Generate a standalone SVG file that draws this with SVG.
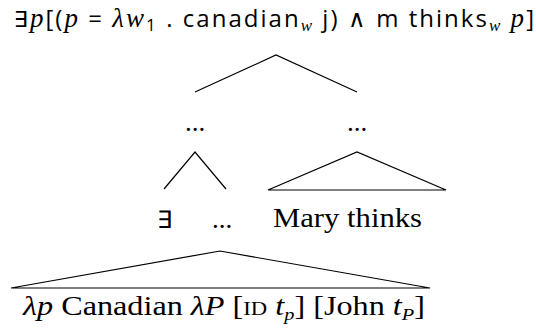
<svg xmlns="http://www.w3.org/2000/svg" width="536" height="336" viewBox="0 0 536 336">
<style>
.sans{font-family:"Open Sans","Noto Sans",sans-serif;font-size:24px;fill:#000}
.serif{font-family:"Liberation Serif","DejaVu Serif",serif;font-size:27px;fill:#000}
.mi{font-family:"Liberation Serif",serif;font-style:italic}
.sub{font-size:17px}
.sc{font-variant:small-caps}
.edge{stroke:#000;stroke-width:1.2;fill:none}
</style>
<rect width="536" height="336" fill="#fff"/>
<g id="root">
<text class="sans" x="14" y="27" textLength="520" lengthAdjust="spacing"><tspan font-family="DejaVu Sans" font-size="22">∃</tspan><tspan class="mi" font-size="27">p</tspan>[(<tspan class="mi" font-size="27">p</tspan> = <tspan class="mi" font-size="27">λw</tspan><tspan class="sub" dy="4">1</tspan><tspan dy="-4"> . canadian</tspan><tspan class="mi sub" dy="4">w</tspan><tspan dy="-4"> j) ∧ m thinks</tspan><tspan class="mi sub" dy="4">w</tspan><tspan dy="-4"> </tspan><tspan class="mi" font-size="27">p</tspan>]</text>
</g>
<g id="n-left">
<text class="serif" x="195" y="131" text-anchor="middle">...</text>
</g>
<g id="n-right">
<text class="serif" x="357" y="131" text-anchor="middle">...</text>
</g>
<g id="n-exists">
<text class="sans" x="164" y="228" text-anchor="middle" font-family="DejaVu Sans" font-size="25">∃</text>
</g>
<g id="n-dots">
<text class="serif" x="222" y="228" text-anchor="middle">...</text>
</g>
<g id="n-mary">
<text class="serif" x="273" y="227" textLength="149" lengthAdjust="spacingAndGlyphs">Mary thinks</text>
</g>
<g id="n-bottom">
<text class="serif" x="23" y="315" textLength="402" lengthAdjust="spacingAndGlyphs"><tspan class="mi">λp</tspan> Canadian <tspan class="mi">λP</tspan> [<tspan class="sc">id</tspan> <tspan class="mi">t</tspan><tspan class="mi sub" dy="5">p</tspan><tspan dy="-5">] [John </tspan><tspan class="mi">t</tspan><tspan class="mi sub" dy="5">P</tspan><tspan dy="-5">]</tspan></text>
</g>
<g id="connectors">
<polyline class="edge" points="195,92 276,55 357,92"/>
<polyline class="edge" points="164,189 195,152 226,189"/>
<polygon class="edge" points="268,190 357,152 446,190"/>
<polygon class="edge" points="11,288 220,251 430,288"/>
</g>
</svg>
